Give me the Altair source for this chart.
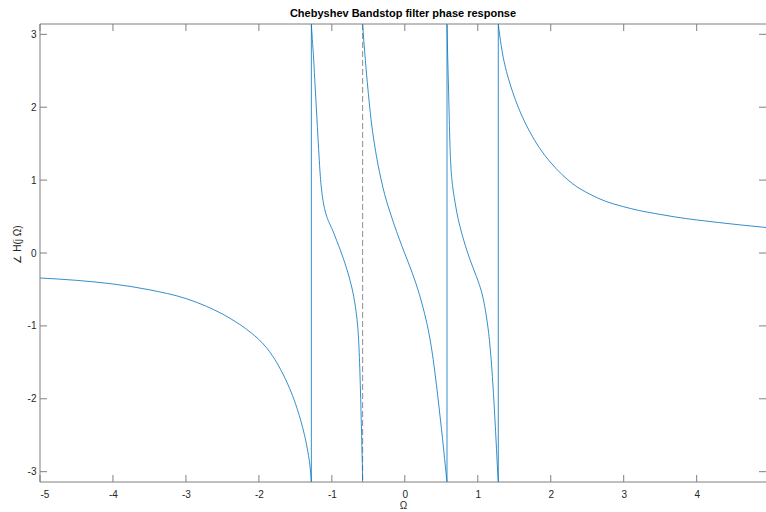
import altair as alt
import pandas as pd

PI = 3.14159

# Phase response samples (Ω in rad/s, phase in rad), one list per branch
seg1_w = [-5.0, -4.5, -4.0, -3.5, -3.0, -2.72, -2.5, -2.27, -2.1, -2.01, -1.9,
          -1.81, -1.7, -1.58, -1.5, -1.445, -1.40, -1.353, -1.32, -1.30, -1.281]
seg1_p = [-0.343, -0.375, -0.425, -0.505, -0.625, -0.731, -0.837, -0.975, -1.10, -1.178,
          -1.294, -1.416, -1.603, -1.855, -2.063, -2.234, -2.396, -2.598, -2.78, -2.92, -PI]

seg2_w = [-1.281, -1.268, -1.253, -1.235, -1.216, -1.198, -1.181, -1.168, -1.155,
          -1.14, -1.126, -1.10, -1.07, -1.034, -0.98, -0.934, -0.88, -0.838, -0.805,
          -0.75, -0.70, -0.67, -0.65, -0.64, -0.63, -0.62, -0.61, -0.60, -0.592,
          -0.585, -0.578]
seg2_p = [PI, 2.93, 2.72, 2.39, 2.05, 1.72, 1.42, 1.20, 1.01,
          0.86, 0.75, 0.61, 0.50, 0.41, 0.29, 0.17, 0.03, -0.09, -0.19,
          -0.38, -0.60, -0.79, -0.96, -1.08, -1.26, -1.50, -1.82, -2.18, -2.50,
          -2.80, -PI]

seg3_w = [-0.578, -0.565, -0.55, -0.53, -0.50, -0.463, -0.42, -0.38, -0.349, -0.30,
          -0.25, -0.212, -0.15, -0.075, 0.0, 0.04, 0.10, 0.153, 0.20, 0.25, 0.29,
          0.33, 0.36, 0.38, 0.415, 0.45, 0.485, 0.518, 0.545, 0.562, 0.578]
seg3_p = [PI, 2.95, 2.76, 2.52, 2.19, 1.83, 1.52, 1.28, 1.12, 0.90,
          0.71, 0.59, 0.40, 0.19, -0.01, -0.11, -0.27, -0.42, -0.57, -0.75, -0.91,
          -1.10, -1.27, -1.40, -1.66, -1.95, -2.26, -2.56, -2.82, -2.99, -PI]

seg4_w = [0.578, 0.585, 0.592, 0.60, 0.609, 0.619, 0.63, 0.645, 0.66, 0.678, 0.72,
          0.77, 0.83, 0.893, 0.93, 0.98, 1.02, 1.045, 1.066, 1.085, 1.105, 1.125,
          1.148, 1.172, 1.195, 1.215, 1.235, 1.253, 1.268, 1.281]
seg4_p = [PI, 2.80, 2.52, 2.22, 1.85, 1.47, 1.21, 1.01, 0.88, 0.76, 0.52,
          0.31, 0.10, -0.09, -0.19, -0.32, -0.43, -0.51, -0.59, -0.68, -0.79, -0.92,
          -1.09, -1.33, -1.62, -1.93, -2.28, -2.62, -2.92, -PI]

seg5_w = [1.281, 1.30, 1.32, 1.34, 1.38, 1.43, 1.52, 1.61, 1.72, 1.84, 2.0, 2.15,
          2.30, 2.53, 2.75, 2.98, 3.2, 3.44, 3.7, 3.99, 4.3, 4.6, 4.95]
seg5_p = [PI, 2.99, 2.85, 2.73, 2.54, 2.36, 2.09, 1.87, 1.65, 1.45, 1.24, 1.08,
          0.95, 0.81, 0.71, 0.64, 0.585, 0.54, 0.495, 0.455, 0.418, 0.385, 0.35]

# Phase wraps from -π to +π: solid jumps, and one drawn as a dashed marker
jump_w = [-1.281, 0.578, 1.281]
dashed_w = [-0.578]

x_ticks = [-5, -4, -3, -2, -1, 0, 1, 2, 3, 4]
y_ticks = [-3, -2, -1, 0, 1, 2, 3]

branches = [(seg1_w, seg1_p), (seg2_w, seg2_p), (seg3_w, seg3_p),
            (seg4_w, seg4_p), (seg5_w, seg5_p)]
rows = []
for b, (ws, ps) in enumerate(branches):
    for w, p in zip(ws, ps):
        rows.append({"w": w, "p": p, "b": b})
df = pd.DataFrame(rows)

W, H = 726, 458
TICK = 7
BLUE = "#0072BD"
LW = 0.8
FRAME = "#7f7f7f"
FONT = "Liberation Sans"

xscale = alt.Scale(domain=[-5, 4.95], nice=False, zero=False)
yscale = alt.Scale(domain=[-PI, PI], nice=False, zero=False)

line = alt.Chart(df).mark_line(
    color=BLUE, strokeWidth=LW, clip=True, interpolate="monotone"
).encode(
    x=alt.X("w:Q", scale=xscale,
            axis=alt.Axis(values=x_ticks, ticks=False, domain=False, grid=False,
                          labelPadding=7, labelExpr="'' + datum.value",
                          title="Ω", titlePadding=1,
                          titleFontWeight="normal", titleFontSize=10)),
    y=alt.Y("p:Q", scale=yscale,
            axis=alt.Axis(values=y_ticks, ticks=False, domain=False, grid=False,
                          labelPadding=4, labelExpr="'' + datum.value",
                          title="∠ H(j Ω)", titlePadding=5, titleY=220,
                          titleFontWeight="normal", titleFontSize=10)),
    detail="b:N",
)

jumps = alt.Chart(pd.DataFrame({"w": jump_w})).mark_rule(
    color=BLUE, strokeWidth=LW
).encode(x=alt.X("w:Q", scale=xscale), y=alt.value(0), y2=alt.value(H))

dashed = alt.Chart(pd.DataFrame({"w": dashed_w})).mark_rule(
    color="#8c8c8c", strokeDash=[6, 3], strokeWidth=1
).encode(x=alt.X("w:Q", scale=xscale), y=alt.value(0), y2=alt.value(H))

one = pd.DataFrame({"k": [0]})
frame_left = alt.Chart(one).mark_rule(color=FRAME).encode(
    x=alt.value(0), y=alt.value(0), y2=alt.value(H))
frame_top = alt.Chart(one).mark_rule(color=FRAME).encode(
    x=alt.value(0), x2=alt.value(W), y=alt.value(0))
frame_bottom = alt.Chart(one).mark_rule(color=FRAME).encode(
    x=alt.value(0), x2=alt.value(W), y=alt.value(H))

xt = pd.DataFrame({"t": x_ticks})
yt = pd.DataFrame({"t": y_ticks})
ticks_bottom = alt.Chart(xt).mark_rule(color=FRAME).encode(
    x=alt.X("t:Q", scale=xscale), y=alt.value(H), y2=alt.value(H - TICK))
ticks_top = alt.Chart(xt).mark_rule(color=FRAME).encode(
    x=alt.X("t:Q", scale=xscale), y=alt.value(0), y2=alt.value(TICK))
ticks_left = alt.Chart(yt).mark_rule(color=FRAME).encode(
    y=alt.Y("t:Q", scale=yscale), x=alt.value(0), x2=alt.value(TICK))
ticks_right = alt.Chart(yt).mark_rule(color=FRAME).encode(
    y=alt.Y("t:Q", scale=yscale), x=alt.value(W), x2=alt.value(W - TICK))

chart = alt.layer(
    dashed, line, jumps, frame_left, frame_top, frame_bottom,
    ticks_bottom, ticks_top, ticks_left, ticks_right,
).properties(
    width=W, height=H,
    title=alt.TitleParams("Chebyshev Bandstop filter phase response",
                          fontSize=11, fontWeight="bold", font=FONT,
                          color="#000000", offset=5, anchor="middle"),
    autosize=alt.AutoSizeParams(type="none"),
    padding={"left": 40, "top": 24, "right": 0, "bottom": 30},
).configure_view(stroke=None).configure_axis(
    labelFont=FONT, labelFontSize=10, labelColor="#262626",
    titleFont=FONT, titleColor="#262626",
)

chart.save("out.html", embed_options={"renderer": "svg", "actions": False})
